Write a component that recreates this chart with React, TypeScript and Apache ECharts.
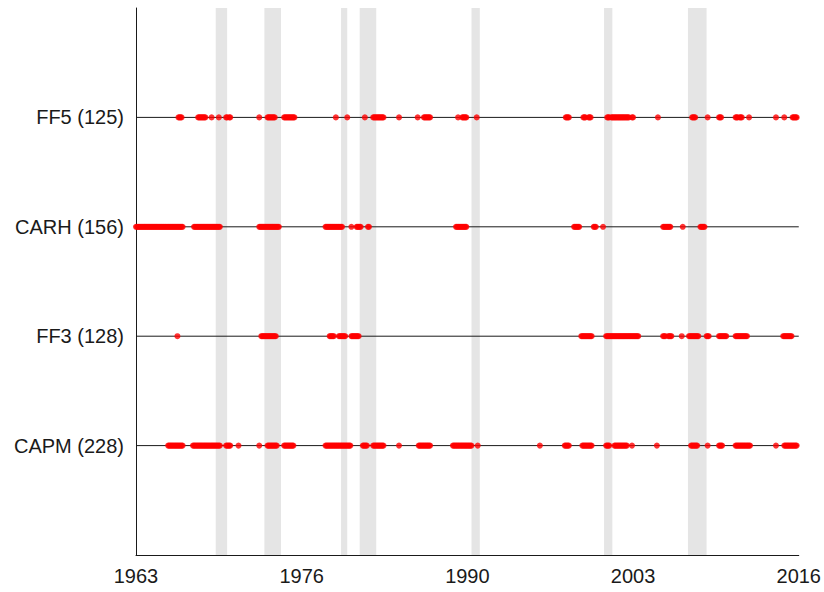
import React, { useEffect, useRef } from "react";
import * as echarts from "echarts";

// x values are month indices counted from July 1963 (index 0)
const X_MAX = 640;
const X_TICK_STEP = 160;
const START_YEAR = 1963.5;

const modelNames = ["CAPM (228)", "FF3 (128)", "CARH (156)", "FF5 (125)"];

// recession bands [start, end] in month index
const recessions: [number, number][] = [
  [77, 88], [124, 140], [198, 204], [216, 232], [324, 332], [452, 460], [533, 551],
];

// runs of consecutive months marked for each model, [start, end] inclusive
const capmRuns: [number, number][] = [
  [31, 45], [55, 81], [87, 91], [99, 99], [119, 119], [127, 136], [143, 152], [183, 207],
  [219, 223], [229, 239], [254, 254], [273, 284], [306, 324], [330, 330], [390, 390],
  [414, 418], [431, 440], [454, 457], [462, 474], [479, 479], [503, 503], [536, 542],
  [552, 552], [563, 566], [579, 593], [618, 618], [626, 638],
];
const ff3Runs: [number, number][] = [
  [40, 40], [121, 135], [187, 191], [196, 202], [208, 215], [430, 440], [454, 485],
  [509, 511], [514, 517], [527, 527], [534, 543], [551, 553], [563, 570], [579, 590],
  [625, 633],
];
const carhRuns: [number, number][] = [
  [0, 45], [56, 81], [119, 138], [183, 199], [208, 208], [213, 217], [224, 225],
  [309, 319], [423, 428], [442, 444], [451, 451], [509, 516], [528, 528], [545, 549],
];
const ff5Runs: [number, number][] = [
  [41, 44], [60, 67], [73, 73], [80, 80], [87, 88], [90, 91], [119, 119], [127, 134],
  [143, 153], [193, 193], [204, 204], [221, 221], [229, 239], [254, 254], [272, 272],
  [278, 284], [311, 311], [315, 319], [329, 329], [415, 418], [432, 434], [437, 439],
  [455, 457], [459, 476], [479, 480], [504, 504], [537, 540], [552, 552], [563, 565],
  [579, 581], [583, 585], [592, 592], [618, 618], [626, 626], [634, 638],
];

const allRuns = [capmRuns, ff3Runs, carhRuns, ff5Runs];

function expand(runs: [number, number][], level: number): number[][] {
  const pts: number[][] = [];
  runs.forEach(([s, e]) => {
    for (let m = s; m <= e; m++) pts.push([m, level]);
  });
  return pts;
}

export default function App() {
  const ref = useRef<HTMLDivElement>(null);
  useEffect(() => {
    if (!ref.current) return;
    const chart = echarts.init(ref.current, undefined, { renderer: "svg" });
    const font = "Liberation Sans, Arial, sans-serif";
    const series: any[] = [
      {
        type: "line",
        data: [[0, 0], [0, 0]],
        symbol: "none",
        lineStyle: { width: 0 },
        silent: true,
        z: 1,
        markArea: {
          silent: true,
          itemStyle: { color: "#e5e5e5" },
          data: recessions.map(([s, e]) => [{ xAxis: s }, { xAxis: e }]),
        },
      },
    ];
    modelNames.forEach((_, i) => {
      series.push({
        type: "line",
        data: [[0, i + 1], [X_MAX, i + 1]],
        symbol: "none",
        lineStyle: { color: "#1a1a1a", width: 1 },
        silent: true,
        z: 2,
      });
    });
    allRuns.forEach((runs, i) => {
      series.push({
        type: "scatter",
        data: expand(runs, i + 1),
        symbol: "circle",
        symbolSize: 6,
        itemStyle: { color: "#ff0000" },
        silent: true,
        z: 3,
      });
    });
    chart.setOption({
      animation: false,
      grid: { left: 136, right: 24, top: 8, bottom: 37, containLabel: false },
      xAxis: {
        type: "value",
        min: 0,
        max: X_MAX,
        interval: X_TICK_STEP,
        axisLine: { show: true, lineStyle: { color: "#1a1a1a", width: 1 } },
        axisTick: { show: false },
        splitLine: { show: false },
        axisLabel: {
          color: "#1a1a1a",
          fontFamily: font,
          fontSize: 20,
          margin: 11,
          formatter: (v: number) => String(Math.floor(START_YEAR + v / 12)),
        },
      },
      yAxis: {
        type: "value",
        min: 0,
        max: 5,
        interval: 1,
        axisLine: { show: true, lineStyle: { color: "#1a1a1a", width: 1 } },
        axisTick: { show: false },
        splitLine: { show: false },
        axisLabel: {
          color: "#1a1a1a",
          fontFamily: font,
          fontSize: 20,
          margin: 12,
          formatter: (v: number) => (v >= 1 && v <= 4 ? modelNames[v - 1] : ""),
        },
      },
      series,
    });
    return () => chart.dispose();
  }, []);
  return (
    <div
      ref={ref}
      style={{ position: "fixed", left: 0, top: 0, width: 824, height: 592, background: "#fff" }}
    />
  );
}
